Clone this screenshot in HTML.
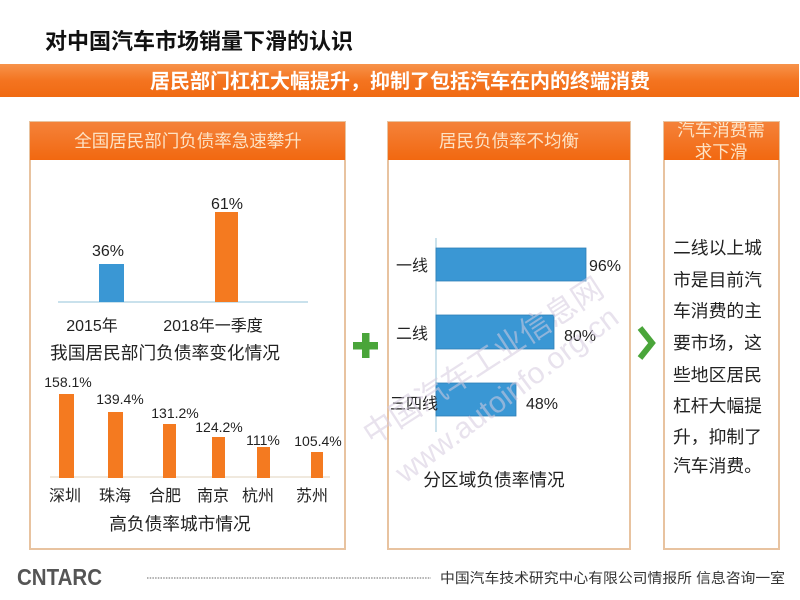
<!DOCTYPE html>
<html><head><meta charset="utf-8">
<style>
html,body{margin:0;padding:0;background:#fff;}
body{width:800px;height:600px;overflow:hidden;position:relative;}
svg{position:absolute;left:0;top:0;}
text{font-family:"Liberation Sans","Noto Sans CJK SC",sans-serif;}
</style></head>
<body>
<svg width="800" height="600" viewBox="0 0 800 600" xmlns="http://www.w3.org/2000/svg">
<defs>
<linearGradient id="og" x1="0" y1="0" x2="0" y2="1">
<stop offset="0" stop-color="#f7934a"/>
<stop offset="0.5" stop-color="#f47420"/>
<stop offset="1" stop-color="#f06a12"/>
</linearGradient>
<linearGradient id="hg" x1="0" y1="0" x2="0" y2="1">
<stop offset="0" stop-color="#f4823a"/>
<stop offset="1" stop-color="#f26810"/>
</linearGradient>
</defs>
<rect width="800" height="600" fill="#fff"/>

<!-- title -->
<text x="45" y="49" font-size="22" font-weight="bold" fill="#111">对中国汽车市场销量下滑的认识</text>

<!-- banner -->
<rect x="0" y="64" width="799" height="33" fill="url(#og)"/>
<text x="150" y="88" font-size="20" font-weight="bold" fill="#fff">居民部门杠杠大幅提升，抑制了包括汽车在内的终端消费</text>

<!-- panels -->
<rect x="30" y="122" width="315" height="427" fill="#fff" stroke="#e8c3a0" stroke-width="2"/>
<rect x="30" y="122" width="315" height="38" fill="url(#hg)"/>
<text x="188" y="147" font-size="17.5" fill="#fde2c4" text-anchor="middle">全国居民部门负债率急速攀升</text>

<rect x="388" y="122" width="242" height="427" fill="#fff" stroke="#e8c3a0" stroke-width="2"/>
<rect x="388" y="122" width="242" height="38" fill="url(#hg)"/>
<text x="509" y="147" font-size="17.5" fill="#fde2c4" text-anchor="middle">居民负债率不均衡</text>

<rect x="664" y="122" width="115" height="427" fill="#fff" stroke="#e8c3a0" stroke-width="2"/>
<rect x="664" y="122" width="115" height="38" fill="url(#hg)"/>
<svg x="664" y="122" width="115" height="38" style="position:static">
<text x="57" y="14" font-size="17.5" fill="#fde2c4" text-anchor="middle">汽车消费需</text>
<text x="57" y="36" font-size="17.5" fill="#fde2c4" text-anchor="middle">求下滑</text>
</svg>

<!-- chart 1 -->
<line x1="58" y1="302" x2="308" y2="302" stroke="#a9cfe0" stroke-width="1.2"/>
<rect x="99" y="264" width="25" height="38" fill="#3a97d4"/>
<rect x="215" y="212" width="23" height="90" fill="#f47a20"/>
<text x="108" y="256" font-size="16" fill="#222" text-anchor="middle">36%</text>
<text x="227" y="209" font-size="16" fill="#222" text-anchor="middle">61%</text>
<text x="92" y="331" font-size="16" fill="#222" text-anchor="middle">2015年</text>
<text x="213" y="331" font-size="16" fill="#222" text-anchor="middle">2018年一季度</text>
<text x="50" y="359" font-size="17.7" fill="#222">我国居民部门负债率变化情况</text>

<!-- chart 2 -->
<line x1="50" y1="477" x2="330" y2="477" stroke="#e8dccb" stroke-width="1.2"/>
<g fill="#f47a20">
<rect x="59" y="394" width="15" height="84"/>
<rect x="108" y="412" width="15" height="66"/>
<rect x="163" y="424" width="13" height="54"/>
<rect x="212" y="437" width="13" height="41"/>
<rect x="257" y="447" width="13" height="31"/>
<rect x="311" y="452" width="12" height="26"/>
</g>
<g font-size="14" fill="#222" text-anchor="middle">
<text x="68" y="387">158.1%</text>
<text x="120" y="404">139.4%</text>
<text x="175" y="418">131.2%</text>
<text x="219" y="432">124.2%</text>
<text x="263" y="445">111%</text>
<text x="318" y="446">105.4%</text>
</g>
<g font-size="16" fill="#222" text-anchor="middle">
<text x="65" y="501">深圳</text>
<text x="115" y="501">珠海</text>
<text x="165" y="501">合肥</text>
<text x="213" y="501">南京</text>
<text x="258" y="501">杭州</text>
<text x="312" y="501">苏州</text>
</g>
<text x="180" y="530" font-size="17.7" fill="#222" text-anchor="middle">高负债率城市情况</text>

<!-- plus -->
<rect x="353" y="342" width="25" height="7.5" fill="#4aa53a"/>
<rect x="362" y="333" width="7.5" height="25" fill="#4aa53a"/>

<!-- middle chart -->
<line x1="436" y1="238" x2="436" y2="432" stroke="#a9cfe0" stroke-width="1.2"/>
<rect x="436" y="248" width="150" height="33" fill="#3a97d4" stroke="#2f7fb6" stroke-width="0.8"/>
<rect x="436" y="315" width="118" height="34" fill="#3a97d4" stroke="#2f7fb6" stroke-width="0.8"/>
<rect x="436" y="383" width="80" height="33" fill="#3a97d4" stroke="#2f7fb6" stroke-width="0.8"/>
<g font-size="16" fill="#222">
<text x="589" y="271">96%</text>
<text x="564" y="341">80%</text>
<text x="526" y="409">48%</text>
<text x="428" y="271" text-anchor="end">一线</text>
<text x="428" y="339" text-anchor="end">二线</text>
<text x="390" y="409">三四线</text>
</g>
<text x="494" y="486" font-size="17.7" fill="#222" text-anchor="middle">分区域负债率情况</text>

<!-- watermark -->
<g fill="#d6cce0" opacity="0.55">
<text transform="translate(372,446) rotate(-33)" font-size="31">中国汽车工业信息网</text>
<text transform="translate(405,484) rotate(-37)" font-size="30">www.autoinfo.org.cn</text>
</g>

<!-- chevron -->
<polyline points="640,328 652,343 640,358" fill="none" stroke="#4aa53a" stroke-width="6" stroke-linejoin="miter"/>

<!-- right text -->
<g font-size="17.8" fill="#222">
<text x="673" y="254">二线以上城</text>
<text x="673" y="286">市是目前汽</text>
<text x="673" y="317">车消费的主</text>
<text x="673" y="349">要市场，这</text>
<text x="673" y="381">些地区居民</text>
<text x="673" y="412">杠杆大幅提</text>
<text x="673" y="443">升，抑制了</text>
<text x="673" y="472">汽车消费。</text>
</g>

<!-- footer -->
<text x="17" y="585" font-size="23" font-weight="bold" fill="#555" textLength="85" lengthAdjust="spacingAndGlyphs">CNTARC</text>
<line x1="147" y1="578" x2="431" y2="578" stroke="#666" stroke-width="1" stroke-dasharray="1.5,1.2"/>
<text x="440" y="583" font-size="14" fill="#333" textLength="345" lengthAdjust="spacingAndGlyphs">中国汽车技术研究中心有限公司情报所  信息咨询一室</text>
</svg>
</body></html>
